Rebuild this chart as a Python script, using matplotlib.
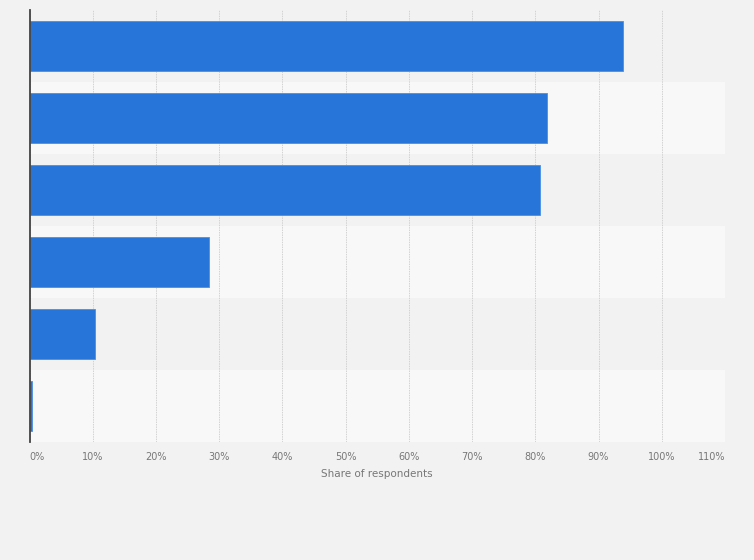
import matplotlib.pyplot as plt
import numpy as np

# values (share of respondents, %)
values = [93.8, 81.9, 80.8, 28.3, 10.4, 0.4]
ticks = [0, 10, 20, 30, 40, 50, 60, 70, 80, 90, 100, 110]
tick_labels = [str(t) + '%' for t in ticks]

bar_color = '#2875d9'
bg = '#f2f2f2'

fig = plt.figure(figsize=(7.54, 5.60), dpi=100, facecolor=bg)
ax = fig.add_axes([0.0393, 0.2107, 0.9222, 0.7715])
ax.set_facecolor(bg)

y = np.arange(len(values))
# alternating row bands
for i in y:
	ax.axhspan(i - 0.5, i + 0.5, color='#f2f2f2' if i % 2 == 0 else '#f8f8f8', zorder=0, lw=0)

ax.barh(y, values, height=0.69, color=bar_color, edgecolor='#4a8ee6', linewidth=0.6, zorder=3)

ax.set_xlim(0, 110)
ax.set_ylim(len(values) - 0.5, -0.5)
ax.set_xticks(ticks)
ax.set_xticklabels(tick_labels, fontsize=7, color='#777777')
labs = ax.get_xticklabels()
labs[0].set_ha('left')
labs[-1].set_ha('right')
ax.set_yticks([])
ax.tick_params(axis='x', length=0, pad=7)
ax.grid(axis='x', color='#d2d2d2', linestyle=(0, (1.5, 1)), linewidth=0.7, zorder=1)

for s in ['top', 'right', 'bottom']:
	ax.spines[s].set_visible(False)
ax.spines['left'].set_color('#444444')
ax.spines['left'].set_linewidth(1.3)
ax.spines['left'].set_zorder(4)

ax.set_xlabel('Share of respondents', fontsize=7.5, color='#777777', labelpad=5)

plt.savefig('out.png', dpi=100, facecolor=bg)
